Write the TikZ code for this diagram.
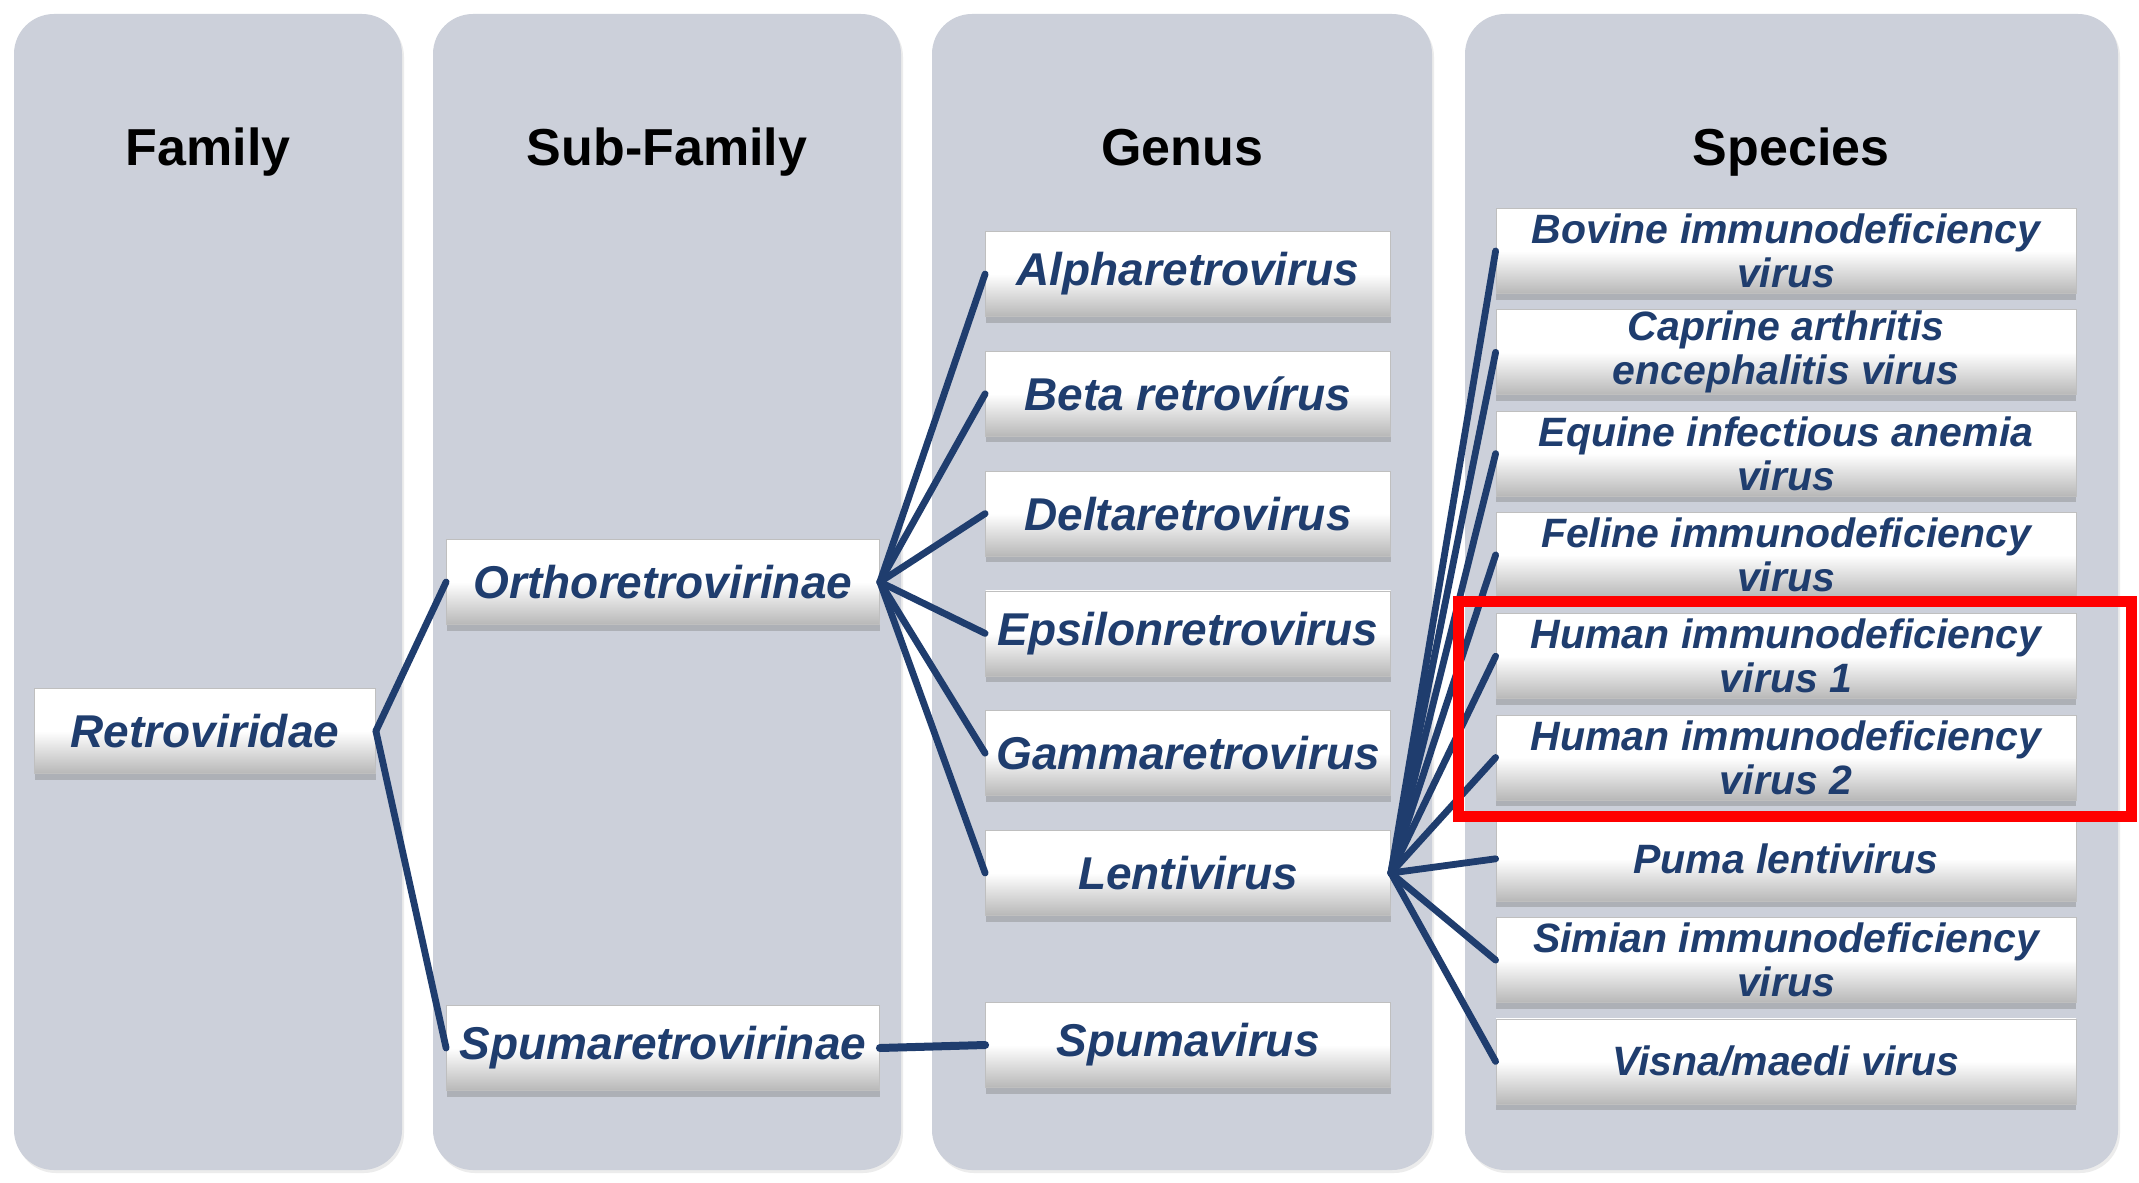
\documentclass[tikz,border=0pt]{standalone}
\usepackage{fontspec}
\setmainfont{Liberation Sans}
\usetikzlibrary{positioning,shadows}
\definecolor{navy}{RGB}{31,61,110}
\definecolor{panelgray}{RGB}{204,208,218}

\begin{document}
\begin{tikzpicture}[x=0.5pt,y=0.5pt,
            linkstyle/.style={draw=navy, line width=3.4pt, line cap=round},
            panel/.style={fill=panelgray, rounded corners=20pt, drop shadow={opacity=0.15, shadow xshift=1pt, shadow yshift=-1.5pt}},
            header/.style={font=\bfseries\fontsize{26}{28}\selectfont, text=black, anchor=base}]
            % A box style
            \tikzstyle{taxonbox} = [rectangle, draw=black!25, line width=0.4pt, top color=white, bottom color=black!28, middle color=white, text=navy, align=center, inner xsep=2pt, inner ysep=0pt, minimum height=42.5pt, drop shadow={opacity=0.4, shadow xshift=0pt, shadow yshift=-3pt}, font=\bfseries\itshape\fontsize{23}{25}\selectfont]
            \tikzstyle{genusbox} = [taxonbox, minimum width=202.5pt]
            \tikzstyle{speciesbox} = [taxonbox, minimum width=290pt, font=\bfseries\itshape\fontsize{20.5}{22}\selectfont]
            \useasboundingbox (0,0) rectangle (2139,-1182);
            \fill[white] (0,0) rectangle (2139,-1182);

            % The four columns
            \path[panel] (14,-14) rectangle (402,-1170);
            \path[panel] (433,-14) rectangle (901,-1170);
            \path[panel] (932,-14) rectangle (1432,-1170);
            \path[panel] (1465,-14) rectangle (2118,-1170);
            \node (famhead) [header] at (208,-166) {Family};
            \node (subhead) [header] at (667,-166) {Sub-Family};
            \node (genhead) [header] at (1182,-166) {Genus};
            \node (spehead) [header] at (1791,-166) {Species};

            % Define the nodes
            \node (retro) [taxonbox, minimum width=170.5pt] at (205,-731) {Retroviridae};
            \node (ortho) [taxonbox, minimum width=216.5pt] at (663,-582) {Orthoretrovirinae};
            \node (spumar) [taxonbox, minimum width=216.5pt] at (663,-1048) {Spumaretrovirinae};

            \node (alpha) [genusbox] at (1188,-274) {Alpharetrovirus};
            \node (beta) [genusbox, below=17pt of alpha] {Beta retrovírus};
            \node (delta) [genusbox, below=17pt of beta] {Deltaretrovirus};
            \node (epsilon) [genusbox, below=17pt of delta] {Epsilonretrovirus};
            \node (gamma) [genusbox, below=17pt of epsilon] {Gammaretrovirus};
            \node (lenti) [genusbox, below=17pt of gamma] {Lentivirus};
            \node (spuma) [genusbox] at (1188,-1045) {Spumavirus};

            \node (bovine) [speciesbox] at (1786,-251) {Bovine immunodeficiency\\virus};
            \node (caprine) [speciesbox, below=7.75pt of bovine] {Caprine arthritis\\encephalitis virus};
            \node (equine) [speciesbox, below=7.75pt of caprine] {Equine infectious anemia\\virus};
            \node (feline) [speciesbox, below=7.75pt of equine] {Feline immunodeficiency\\virus};
            \node (hiv1) [speciesbox, below=7.75pt of feline] {Human immunodeficiency\\virus 1};
            \node (hiv2) [speciesbox, below=7.75pt of hiv1] {Human immunodeficiency\\virus 2};
            \node (puma) [speciesbox, below=7.75pt of hiv2] {Puma lentivirus};
            \node (simian) [speciesbox, below=7.75pt of puma] {Simian immunodeficiency\\virus};
            \node (visna) [speciesbox, below=7.75pt of simian] {Visna/maedi virus};

            % Draw the branches
            \draw [linkstyle] (retro.east) -- (ortho.west);
            \draw [linkstyle] (retro.east) -- (spumar.west);
            \draw [linkstyle] (ortho.east) -- (alpha.west);
            \draw [linkstyle] (ortho.east) -- (beta.west);
            \draw [linkstyle] (ortho.east) -- (delta.west);
            \draw [linkstyle] (ortho.east) -- (epsilon.west);
            \draw [linkstyle] (ortho.east) -- (gamma.west);
            \draw [linkstyle] (ortho.east) -- (lenti.west);
            \draw [linkstyle, line width=4pt] (spumar.east) -- (spuma.west);
            \draw [linkstyle] (lenti.east) -- (bovine.west);
            \draw [linkstyle] (lenti.east) -- (caprine.west);
            \draw [linkstyle] (lenti.east) -- (equine.west);
            \draw [linkstyle] (lenti.east) -- (feline.west);
            \draw [linkstyle] (lenti.east) -- (hiv1.west);
            \draw [linkstyle] (lenti.east) -- (hiv2.west);
            \draw [linkstyle] (lenti.east) -- (puma.west);
            \draw [linkstyle] (lenti.east) -- (simian.west);
            \draw [linkstyle] (lenti.east) -- (visna.west);

            % Highlight around the two HIV species
            \draw [red, line width=5.5pt] (1458,-601) rectangle (2131,-816);
        \end{tikzpicture}
\end{document}
